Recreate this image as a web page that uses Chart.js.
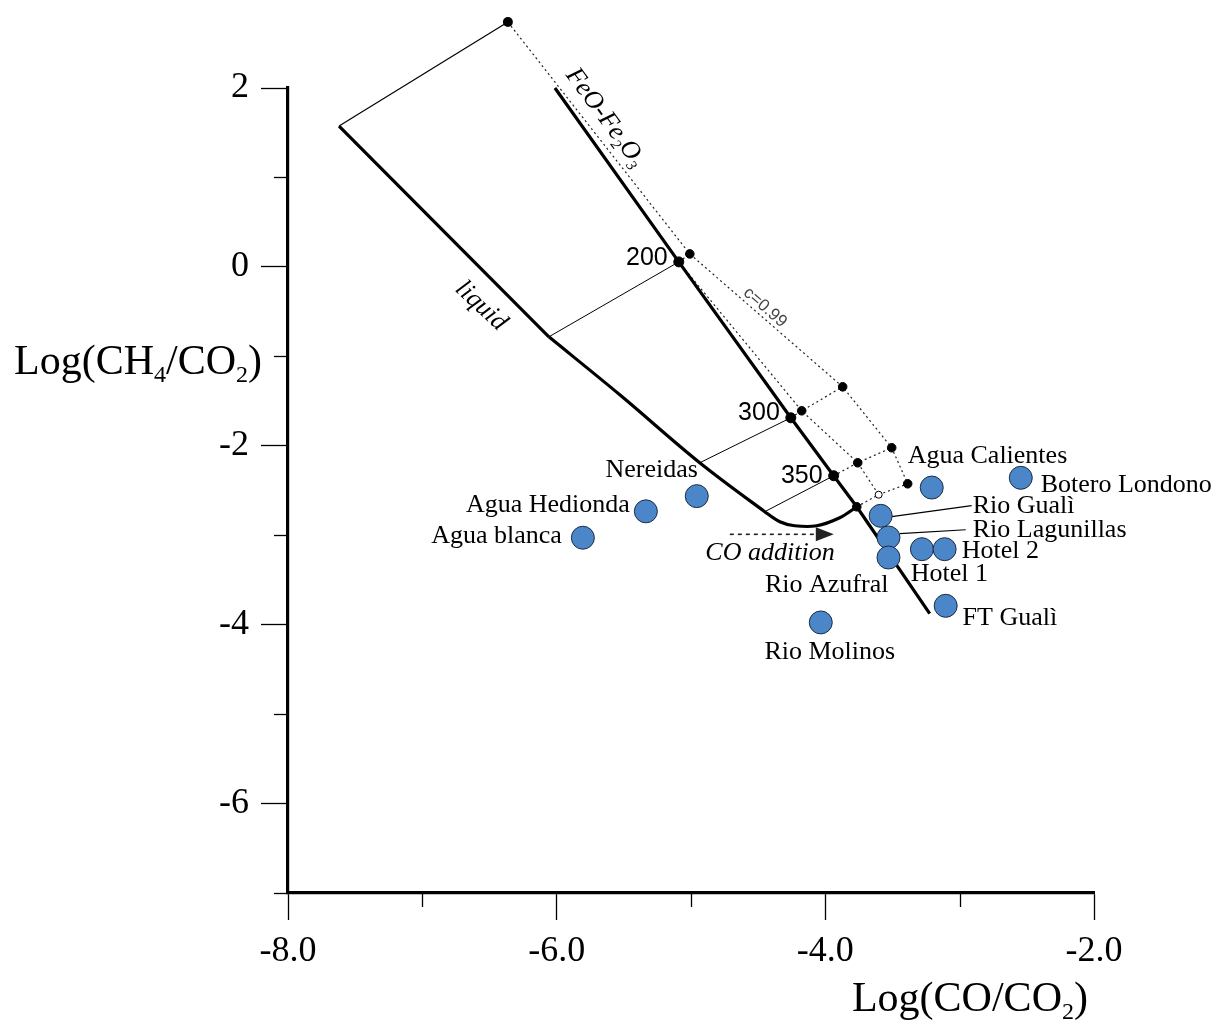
<!DOCTYPE html>
<html><head><meta charset="utf-8">
<script src="https://cdn.jsdelivr.net/npm/chart.js@4.4.0/dist/chart.umd.min.js"></script>
<style>html,body{margin:0;padding:0;background:#fff;}#wrap{width:1232px;height:1026px;}</style>
</head><body><div id="wrap"><canvas id="c" width="1232" height="1026"></canvas></div>
<script>
// ---- tick labels ----
const xMajorTicks = [-8, -6, -4, -2];
const yMajorTicks = [2, 0, -2, -4, -6];

// ---- sample sites ----
const siteX = [-5.805, -5.336, -4.957, -3.208, -2.545, -3.588, -3.530, -3.530, -3.281, -3.112, -3.104, -4.034];
const siteY = [-3.028, -2.733, -2.563, -2.467, -2.358, -2.783, -3.025, -3.249, -3.156, -3.156, -3.789, -3.975];

// ---- site labels (anchor in data units) ----
const labelText  = ['Agua blanca','Agua Hedionda','Nereidas','Agua Calientes','Botero Londono','Rio Gualì','Rio Lagunillas','Hotel 2','Hotel 1','FT Gualì','Rio Azufral','Rio Molinos'];
const labelX     = [-5.961, -5.455, -4.949, -3.387, -2.397, -2.903, -2.903, -2.985, -3.365, -2.978, -3.990, -3.967];
const labelY     = [-3.006, -2.659, -2.268, -2.112, -2.436, -2.670, -2.939, -3.173, -3.430, -3.922, -3.553, -4.313];
const labelAlign = ['right','right','right','left','left','left','left','left','left','left','center','center'];

// ---- buffer and liquid curves ----
const feoX = [-6.013, -5.091, -4.257, -3.938, -3.766, -3.223];
const feoY = [2.000, 0.056, -1.687, -2.335, -2.682, -3.877];
const liqUpperX = [-7.620, -6.058];
const liqUpperY = [1.575, -0.782];
const liqLowerX = [-6.058, -5.530, -4.935, -4.451, -4.339, -4.228, -4.064, -3.893, -3.766];
const liqLowerY = [-0.782, -1.430, -2.190, -2.737, -2.849, -2.894, -2.894, -2.804, -2.682];

// thin solid tie lines
const tieTopX = [-7.620, -6.363]; const tieTopY = [1.575, 2.737];
const tie200X = [-6.058, -5.091]; const tie200Y = [-0.782, 0.056];
const tie300X = [-4.935, -4.257]; const tie300Y = [-2.190, -1.687];
const tie350X = [-4.451, -3.938]; const tie350Y = [-2.737, -2.335];

// dotted lines
const dotOuterX = [-6.363, -5.009, -3.871, -3.506, -3.387];
const dotOuterY = [2.737, 0.145, -1.341, -2.022, -2.425];
const dotInnerX = [-5.091, -4.176, -3.759, -3.603];
const dotInnerY = [0.056, -1.609, -2.190, -2.547];
const dotTie200X = [-5.091, -5.009]; const dotTie200Y = [0.056, 0.145];
const dotTie300X = [-4.257, -4.176, -3.871]; const dotTie300Y = [-1.687, -1.609, -1.341];
const dotTie350X = [-3.938, -3.759, -3.506]; const dotTie350Y = [-2.335, -2.190, -2.022];
const dotTieEndX = [-3.766, -3.603, -3.387]; const dotTieEndY = [-2.682, -2.547, -2.425];

// black nodes
const nodeX = [-6.363, -5.009, -3.871, -4.176, -3.506, -3.759, -3.387, -3.766];
const nodeY = [2.737, 0.145, -1.341, -1.609, -2.022, -2.190, -2.425, -2.682];
const tempX = [-5.091, -4.257, -3.938];
const tempY = [0.056, -1.687, -2.335];
const tempLabels = ['200', '300', '350'];
const openX = [-3.603]; const openY = [-2.547];

// leader lines
const leadGualiX = [-3.506, -2.911]; const leadGualiY = [-2.793, -2.670];
const leadLaguX = [-3.446, -2.955]; const leadLaguY = [-2.983, -2.939];

// CO addition arrow
const arrowX = [-4.711, -3.937]; const arrowY = [-2.990, -2.990];

// pixel offsets of the temperature labels (style)
const tempLabelDy = [-4, -5, 0];

const pts = (xs, ys) => xs.map((x, i) => ({x, y: ys[i]}));

function line(xs, ys, w, opts) {
  return Object.assign({type: 'line', data: pts(xs, ys), borderColor: '#000', borderWidth: w,
    pointRadius: 0, showLine: true, fill: false, tension: 0, clip: false, order: 5}, opts || {});
}
const dotted = {borderDash: [2, 3], borderColor: '#222'};

const SERIF = '"Liberation Serif", "Times New Roman", serif';
const SANS = '"Liberation Sans", Arial, sans-serif';

function drawRich(ctx, parts, x, y, size, align, style) {
  const main = `${style || ''} ${size}px ${SERIF}`;
  const sub = `${style || ''} ${Math.round(size * 0.58)}px ${SERIF}`;
  let w = 0;
  parts.forEach(p => { ctx.font = p.sub ? sub : main; w += ctx.measureText(p.t).width; });
  let cx = align === 'right' ? x - w : align === 'center' ? x - w / 2 : x;
  ctx.textAlign = 'left'; ctx.textBaseline = 'alphabetic';
  parts.forEach(p => {
    ctx.font = p.sub ? sub : main;
    ctx.fillText(p.t, cx, y + (p.sub ? size * 0.2 : 0));
    cx += ctx.measureText(p.t).width;
  });
}

const annot = {
  id: 'annot',
  afterDatasetsDraw(chart) {
    const ctx = chart.ctx, xs = chart.scales.x, ys = chart.scales.y;
    const px = v => xs.getPixelForValue(v), py = v => ys.getPixelForValue(v);
    const area = chart.chartArea;
    ctx.save();
    ctx.fillStyle = '#000';
    // nodes lying outside the axis frame (library skips them)
    nodeX.forEach((x, i) => {
      const X = px(x), Y = py(nodeY[i]);
      if (Y < area.top || Y > area.bottom || X < area.left || X > area.right) {
        ctx.beginPath(); ctx.arc(X, Y, 5, 0, Math.PI * 2); ctx.fill();
      }
    });
    // site labels
    ctx.font = `26px ${SERIF}`; ctx.textBaseline = 'middle';
    labelText.forEach((t, i) => { ctx.textAlign = labelAlign[i]; ctx.fillText(t, px(labelX[i]), py(labelY[i])); });
    // temperature labels
    ctx.font = `25px ${SANS}`; ctx.textAlign = 'right';
    tempLabels.forEach((t, i) => ctx.fillText(t, px(tempX[i]) - 11, py(tempY[i]) + tempLabelDy[i]));
    // arrow head
    const ax = px(arrowX[1]), ay = py(arrowY[1]);
    ctx.fillStyle = '#222';
    ctx.beginPath(); ctx.moveTo(ax, ay); ctx.lineTo(ax - 18, ay - 7); ctx.lineTo(ax - 18, ay + 7); ctx.closePath(); ctx.fill();
    ctx.fillStyle = '#000';
    ctx.font = `italic 26px ${SERIF}`; ctx.textAlign = 'center';
    ctx.fillText('CO addition', px(-4.412), py(-3.200));
    // liquid label
    ctx.save(); ctx.translate(px(-6.563), py(-0.437)); ctx.rotate(43 * Math.PI / 180);
    ctx.font = `italic 26px ${SERIF}`; ctx.textAlign = 'center'; ctx.textBaseline = 'middle';
    ctx.fillText('liquid', 0, 0); ctx.restore();
    // c=0.99
    ctx.save(); ctx.translate(px(-4.449), py(-0.453)); ctx.rotate(41 * Math.PI / 180);
    ctx.font = `17px ${SANS}`; ctx.fillStyle = '#444'; ctx.textAlign = 'center'; ctx.textBaseline = 'middle';
    ctx.fillText('c=0.99', 0, 0); ctx.restore();
    // FeO-Fe2O3
    ctx.save(); ctx.translate(px(-5.680), py(1.625)); ctx.rotate(53.5 * Math.PI / 180);
    drawRich(ctx, [{t: 'FeO-Fe'}, {t: '2', sub: true}, {t: 'O'}, {t: '3', sub: true}], 0, 0, 26, 'center', 'italic');
    ctx.restore();
    // axis titles
    drawRich(ctx, [{t: 'Log(CH'}, {t: '4', sub: true}, {t: '/CO'}, {t: '2', sub: true}, {t: ')'}],
      xs.left - 26, py(-1.198), 42, 'right');
    drawRich(ctx, [{t: 'Log(CO/CO'}, {t: '2', sub: true}, {t: ')'}],
      px(-2.045), ys.bottom + 118, 42, 'right');
    // minor ticks
    ctx.strokeStyle = '#000'; ctx.lineWidth = 1.3;
    for (let v = -7; v <= -3; v += 2) {
      const x = Math.round(px(v)) + 0.5;
      ctx.beginPath(); ctx.moveTo(x, ys.bottom); ctx.lineTo(x, ys.bottom + 14); ctx.stroke();
    }
    for (let v = -7; v <= 1; v += 2) {
      const y = Math.round(py(v)) + 0.5;
      ctx.beginPath(); ctx.moveTo(xs.left - 14, y); ctx.lineTo(xs.left, y); ctx.stroke();
    }
    ctx.restore();
  }
};

const blue = '#4a86c8';
new Chart(document.getElementById('c'), {
  type: 'scatter',
  data: {
    datasets: [
      {label: 'sites', data: pts(siteX, siteY), pointRadius: 11.5, pointHoverRadius: 11.5,
        backgroundColor: blue, borderColor: '#1c2c44', borderWidth: 1, order: 0, clip: false},
      {label: 'temps', data: pts(tempX, tempY), pointRadius: 5, backgroundColor: '#000', borderColor: '#000', order: 1, clip: false},
      {label: 'nodes', data: pts(nodeX, nodeY), pointRadius: 4.3, backgroundColor: '#000', borderColor: '#000', order: 1, clip: false},
      {label: 'open', data: pts(openX, openY), pointRadius: 3.5, backgroundColor: '#fff', borderColor: '#000', borderWidth: 1, order: 1, clip: false},
      line(feoX, feoY, 3.2),
      line(liqUpperX, liqUpperY, 3.2),
      line(liqLowerX, liqLowerY, 3.2, {tension: 0.35}),
      line(tieTopX, tieTopY, 1.2),
      line(tie200X, tie200Y, 1),
      line(tie300X, tie300Y, 1),
      line(tie350X, tie350Y, 1),
      line(dotOuterX, dotOuterY, 1.2, dotted),
      line(dotInnerX, dotInnerY, 1.2, dotted),
      line(dotTie200X, dotTie200Y, 1.2, dotted),
      line(dotTie300X, dotTie300Y, 1.2, dotted),
      line(dotTie350X, dotTie350Y, 1.2, dotted),
      line(dotTieEndX, dotTieEndY, 1.2, dotted),
      line(leadGualiX, leadGualiY, 1.2),
      line(leadLaguX, leadLaguY, 1.2),
      line([arrowX[0], arrowX[1] - 0.13], arrowY, 1.6, {borderDash: [4, 4], borderColor: '#222'})
    ]
  },
  options: {
    responsive: false, animation: false,
    layout: {padding: {top: 88, right: 138, left: 0, bottom: 0}},
    plugins: {legend: {display: false}, tooltip: {enabled: false}},
    scales: {
      x: {
        type: 'linear', min: -8, max: -2,
        afterFit: s => { s.height = 133; },
        border: {display: true, width: 3.2, color: '#000'},
        grid: {drawOnChartArea: false, drawTicks: true, tickLength: 27, tickWidth: 1.3,
          tickColor: c => xMajorTicks.includes(c.tick && c.tick.value) ? '#000' : 'rgba(0,0,0,0)'},
        ticks: {stepSize: 1, autoSkip: false, maxRotation: 0, padding: 10, color: '#000',
          font: {family: SERIF, size: 36},
          callback: v => xMajorTicks.includes(v) ? v.toFixed(1) : ''}
      },
      y: {
        type: 'linear', min: -7, max: 2,
        afterFit: s => { s.width = 288; },
        border: {display: true, width: 3.2, color: '#000'},
        grid: {drawOnChartArea: false, drawTicks: true, tickLength: 27, tickWidth: 1.3,
          tickColor: c => yMajorTicks.includes(c.tick && c.tick.value) ? '#000' : 'rgba(0,0,0,0)'},
        ticks: {stepSize: 1, autoSkip: false, padding: 12, color: '#000',
          font: {family: SERIF, size: 36},
          callback: v => yMajorTicks.includes(v) ? String(v) : ''}
      }
    }
  },
  plugins: [annot]
});
</script>
</body></html>
